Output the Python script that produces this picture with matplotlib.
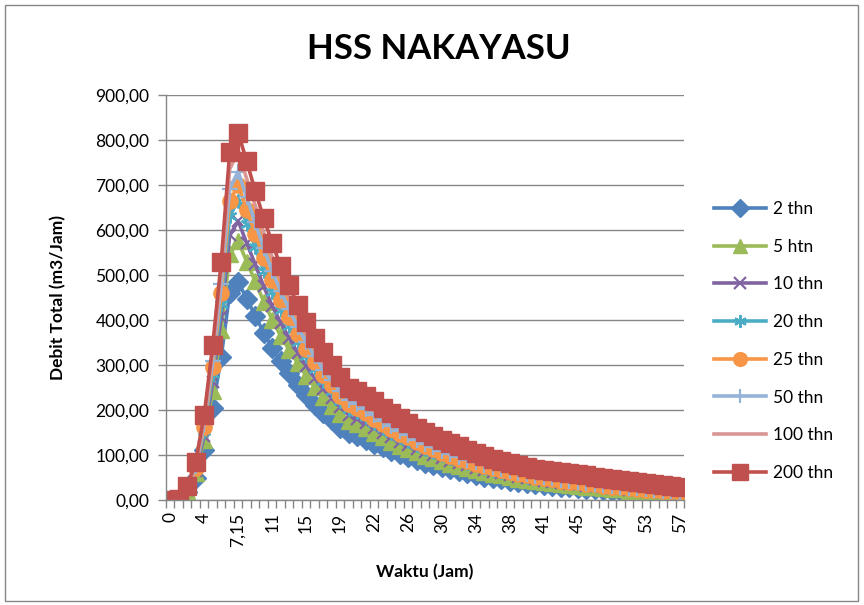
import matplotlib
matplotlib.use("Agg")
import matplotlib.pyplot as plt
from matplotlib.patches import Rectangle

plt.rcParams['font.family'] = ['Lato', 'DejaVu Sans']

categories = (["0", "1", "2", "3", "4", "5", "6", "7", "7,15"]
              + [str(h) for h in range(8, 20)] + ["19,65", "20", "21"]
              + [str(h) for h in range(22, 39)] + ["38,40", "39", "40"]
              + [str(h) for h in range(41, 58)])

q2 = [0, 1, 18, 50, 112, 205, 318, 460, 485, 447, 410,
      372, 338, 308, 282, 256, 233, 212, 193, 177, 161,
      148, 142, 134, 125, 117, 109, 102, 96, 89, 83,
      78, 73, 68, 64, 60, 56, 52, 49, 46, 43,
      40, 38, 36, 34, 32, 30, 28, 27, 25, 24,
      22, 21, 20, 18, 17, 16, 15, 14, 13, 12]
q5 = [0, 1, 21, 59, 133, 243, 377, 546, 575, 530, 486,
      441, 401, 365, 334, 304, 276, 251, 229, 210, 191,
      176, 168, 159, 148, 139, 129, 121, 114, 106, 98,
      93, 87, 81, 76, 71, 66, 62, 58, 55, 51,
      47, 45, 43, 40, 38, 36, 33, 32, 30, 28,
      26, 25, 24, 21, 20, 19, 18, 17, 15, 14]
q10 = [0, 1, 23, 64, 143, 262, 406, 588, 620, 571, 524,
       475, 432, 394, 360, 327, 298, 271, 247, 226, 206,
       189, 181, 171, 160, 150, 139, 130, 123, 114, 106,
       100, 93, 87, 82, 77, 72, 66, 63, 59, 55,
       51, 49, 46, 43, 41, 38, 36, 35, 32, 31,
       28, 27, 26, 23, 22, 20, 19, 18, 17, 15]
q20 = [0, 1, 25, 69, 154, 281, 436, 631, 665, 613, 562,
       510, 463, 422, 387, 351, 319, 291, 265, 243, 221,
       203, 195, 184, 171, 160, 149, 140, 132, 122, 114,
       107, 100, 93, 88, 82, 77, 71, 67, 63, 59,
       55, 52, 49, 47, 44, 41, 38, 37, 34, 33,
       30, 29, 27, 25, 23, 22, 21, 19, 18, 16]
q25 = [0, 1, 26, 72, 162, 296, 459, 664, 700, 645, 592,
       537, 488, 444, 407, 369, 336, 306, 278, 255, 232,
       214, 205, 193, 180, 169, 157, 147, 139, 128, 120,
       113, 105, 98, 92, 87, 81, 75, 71, 66, 62,
       58, 55, 52, 49, 46, 43, 40, 39, 36, 35,
       32, 30, 29, 26, 25, 23, 22, 20, 19, 17]
q50 = [0, 2, 27, 75, 169, 309, 479, 692, 730, 673, 617,
       560, 509, 464, 424, 385, 351, 319, 290, 266, 242,
       223, 214, 202, 188, 176, 164, 154, 144, 134, 125,
       117, 110, 102, 96, 90, 84, 78, 74, 69, 65,
       60, 57, 54, 51, 48, 45, 42, 41, 38, 36,
       33, 32, 30, 27, 26, 24, 23, 21, 20, 18]
q100 = [0, 2, 29, 80, 179, 328, 508, 735, 775, 714, 655,
        594, 540, 492, 451, 409, 372, 339, 308, 283, 257,
        237, 227, 214, 200, 187, 174, 163, 153, 142, 133,
        125, 117, 109, 102, 96, 89, 83, 78, 74, 69,
        64, 61, 58, 54, 51, 48, 45, 43, 40, 38,
        35, 34, 32, 29, 27, 26, 24, 22, 21, 19]
q200 = [0, 2, 31, 85, 189, 344, 529, 773, 816, 753, 687,
        627, 571, 520, 478, 433, 396, 360, 328, 300, 273,
        250, 243, 232, 219, 205, 193, 182, 171, 161, 151,
        142, 134, 126, 119, 112, 104, 97, 92, 86, 82,
        77, 73, 70, 67, 65, 63, 61, 58, 56, 52,
        48, 46, 44, 42, 40, 38, 36, 34, 32, 30]

series_names = ["2 thn", "5 htn", "10 thn", "20 thn", "25 thn", "50 thn", "100 thn", "200 thn"]
series_values = [q2, q5, q10, q20, q25, q50, q100, q200]
y_ticks = [0, 100, 200, 300, 400, 500, 600, 700, 800, 900]

colors = ["#4F81BD", "#9BBB59", "#8064A2", "#4BACC6", "#F79646", "#95B3D7", "#D99694", "#C0504D"]
markers = ["D", "^", "x", (6, 2, 0), "o", "+", "None", "s"]
msizes = [10.5, 11.5, 9, 10, 11, 11, 0, 13]

fig = plt.figure(figsize=(8.64, 6.05), dpi=100)
fig.patches.append(Rectangle((5 / 864, 4 / 605), 853 / 864, 596 / 605, transform=fig.transFigure,
                             fill=False, edgecolor="#868686", linewidth=1.0))
ax = fig.add_axes([166 / 864, 105 / 605, 518 / 864, 405 / 605])

x = list(range(len(categories)))
handles = []
for name, vals, c, m, ms in zip(series_names, series_values, colors, markers, msizes):
    mew = 1.6 if m in ("x", "+") or isinstance(m, tuple) else 1.0
    h, = ax.plot(x, vals, color=c, linewidth=2.6, marker=m, markersize=ms,
                 markerfacecolor=c, markeredgecolor=c, markeredgewidth=mew,
                 label=name, solid_joinstyle="round")
    handles.append(h)

ax.set_xlim(-0.5, len(categories) - 0.5)
ax.set_ylim(0, 900)
ax.set_yticks(y_ticks)
ax.set_yticklabels([f"{v:.2f}".replace(".", ",") for v in y_ticks], fontsize=12.5)
ax.grid(axis="y", color="#868686", linewidth=1.0)
ax.set_axisbelow(True)

major = list(range(0, len(categories), 4))
ax.set_xticks(major)
ax.set_xticklabels([categories[i] for i in major], rotation=90, fontsize=12.5)
ax.set_xticks([i - 0.5 for i in range(len(categories) + 1)], minor=True)
ax.tick_params(axis="x", which="major", length=0, pad=9)
ax.tick_params(axis="x", which="minor", length=6, color="#868686", width=1)
ax.tick_params(axis="y", length=6, color="#868686", width=1, pad=6)

for s in ("top", "right"):
    ax.spines[s].set_visible(False)
for s in ("left", "bottom"):
    ax.spines[s].set_color("#868686")
    ax.spines[s].set_linewidth(1.0)

fig.text(439 / 864, 1 - 49 / 605, "HSS NAKAYASU", ha="center", va="center",
         fontsize=25, fontweight="bold")
fig.text(425 / 864, 1 - 572 / 605, "Waktu (Jam)", ha="center", va="center",
         fontsize=12.5, fontweight="bold")
fig.text(58 / 864, 1 - 298 / 605, "Debit Total (m3/Jam)", ha="center", va="center",
         rotation=90, fontsize=12.5, fontweight="bold")

fig.legend(handles=handles, labels=series_names, loc="center left",
           bbox_to_anchor=(0.826, 1 - 341 / 605), frameon=False, fontsize=12.5,
           handlelength=3.0, labelspacing=1.25, handletextpad=0.4, borderpad=0, borderaxespad=0,
           markerscale=0.9)

fig.savefig("out.png", dpi=100)
